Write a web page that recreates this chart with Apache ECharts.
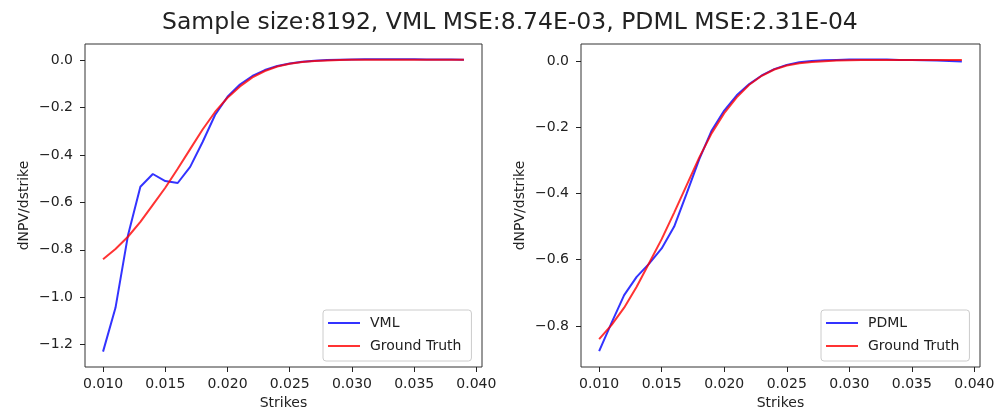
<!DOCTYPE html>
<html>
<head>
<meta charset="utf-8">
<script src="https://cdn.jsdelivr.net/npm/echarts@6/dist/echarts.min.js"></script>
<style>
html,body{margin:0;padding:0;background:#fff;}
#chart{width:998px;height:417px;}
</style>
</head>
<body>
<div id="chart"></div>
<script>
// ---- data ----
var strikes = [0.010,0.011,0.012,0.013,0.014,0.015,0.016,0.017,0.018,0.019,
               0.020,0.021,0.022,0.023,0.024,0.025,0.026,0.027,0.028,0.029,
               0.030,0.031,0.032,0.033,0.034,0.035,0.036,0.037,0.038,0.039];
var groundTruth = [-0.840,-0.797,-0.745,-0.682,-0.610,-0.538,-0.458,-0.375,-0.292,-0.218,
                   -0.158,-0.110,-0.072,-0.045,-0.026,-0.014,-0.007,-0.003,-0.001,0.001,
                    0.002,0.003,0.003,0.003,0.003,0.003,0.003,0.003,0.003,0.003];
var vml = [-1.230,-1.045,-0.740,-0.534,-0.480,-0.510,-0.518,-0.450,-0.345,-0.231,
           -0.154,-0.102,-0.066,-0.041,-0.024,-0.013,-0.006,-0.002,0.001,0.003,
            0.004,0.005,0.005,0.005,0.005,0.005,0.004,0.004,0.004,0.003];
var pdml = [-0.876,-0.790,-0.707,-0.652,-0.612,-0.566,-0.500,-0.400,-0.297,-0.210,
            -0.150,-0.104,-0.070,-0.044,-0.025,-0.012,-0.004,0.000,0.002,0.003,
             0.004,0.004,0.004,0.004,0.003,0.003,0.002,0.001,0.000,-0.002];
var xTicks = [0.010,0.015,0.020,0.025,0.030,0.035,0.040];
var yTicksLeft = [-1.2,-1.0,-0.8,-0.6,-0.4,-0.2,0.0];
var yTicksRight = [-0.8,-0.6,-0.4,-0.2,0.0];
var titleText = 'Sample size:8192, VML MSE:8.74E-03, PDML MSE:2.31E-04';

function pairs(xs, ys){ return xs.map(function(x,i){ return [x, ys[i]]; }); }

var FONT = 'DejaVu Sans';
var TXT = '#222';
var BLUE = 'rgba(0,0,255,0.8)';
var RED = 'rgba(255,0,0,0.8)';
var TICK = '#222';
var XMIN = 0.00855, XMAX = 0.04045;
var LEFT_RANGE = [-1.295, 0.069], RIGHT_RANGE = [-0.924, 0.051];

function fmtX(v){ return v.toFixed(3); }
function fmtY(v){ var s = Math.abs(v) < 1e-9 ? '0.0' : v.toFixed(1); return s.replace('-', '\u2212'); }

// main axes (labels + names, no ticks)
function xAxis(idx){
  return {
    type:'value', gridIndex:idx, min:XMIN, max:XMAX, position:'bottom',
    name:'Strikes', nameLocation:'middle', nameGap:29,
    nameTextStyle:{fontFamily:FONT, fontSize:14, color:TXT},
    axisLine:{show:false, onZero:false},
    axisTick:{show:false},
    axisLabel:{show:true, margin:10, fontFamily:FONT, fontSize:14, color:TXT, customValues:xTicks, formatter:fmtX},
    splitLine:{show:false}
  };
}
function yAxis(idx, range, ticks){
  return {
    type:'value', gridIndex:idx, min:range[0], max:range[1], position:'left',
    name:'dNPV/dstrike', nameLocation:'middle', nameGap:54,
    nameTextStyle:{fontFamily:FONT, fontSize:14, color:TXT},
    axisLine:{show:false, onZero:false},
    axisTick:{show:false},
    axisLabel:{show:true, margin:12, fontFamily:FONT, fontSize:14, color:TXT, customValues:ticks, formatter:fmtY},
    splitLine:{show:false}
  };
}
// tick-only axes living in thin strips just outside the plot frames
function tickAxis(idx, mn, mx, ticks, pos){
  return {
    type:'value', gridIndex:idx, min:mn, max:mx, position:pos,
    axisLine:{show:false, onZero:false},
    axisTick:{show:true, inside:true, length:5, lineStyle:{color:TICK, width:1}, customValues:ticks},
    axisLabel:{show:false, customValues:ticks},
    splitLine:{show:false}
  };
}
function hiddenAxis(idx){
  return {type:'value', gridIndex:idx, min:0, max:1, show:false};
}
function lineSeries(name, idx, ys, color){
  return {
    type:'line', name:name, xAxisIndex:idx, yAxisIndex:idx,
    data:pairs(strikes, ys), symbol:'none', showSymbol:false, smooth:false,
    lineStyle:{color:color, width:2}, itemStyle:{color:color},
    animation:false
  };
}
function legend(left, names){
  return {
    data:names, orient:'vertical', left:left, top:310,
    icon:'rect',
    padding:[5,10,7,5], itemGap:7, itemWidth:32, itemHeight:2,
    backgroundColor:'#fff', borderColor:'#ccc', borderWidth:1, borderRadius:3,
    textStyle:{fontFamily:FONT, fontSize:14, color:TXT, padding:[0,0,0,5], lineHeight:16},
    selectedMode:false
  };
}

var chart = echarts.init(document.getElementById('chart'), null, {renderer:'canvas'});
chart.setOption({
  animation:false,
  backgroundColor:'#fff',
  title:{text:titleText, left:157, top:6,
         textStyle:{fontFamily:FONT, fontSize:23.5, fontWeight:'normal', color:TXT}},
  grid:[
    {left:85, top:44, width:397, height:323, show:true, borderColor:'#333', borderWidth:1, backgroundColor:'transparent'},
    {left:581, top:44, width:399, height:323, show:true, borderColor:'#333', borderWidth:1, backgroundColor:'transparent'},
    {left:85, top:367, width:397, height:5, show:false},
    {left:581, top:367, width:399, height:5, show:false},
    {left:80, top:44, width:5, height:323, show:false},
    {left:576, top:44, width:5, height:323, show:false}
  ],
  xAxis:[
    xAxis(0), xAxis(1),
    tickAxis(2, XMIN, XMAX, xTicks, 'top'), tickAxis(3, XMIN, XMAX, xTicks, 'top'),
    hiddenAxis(4), hiddenAxis(5)
  ],
  yAxis:[
    yAxis(0, LEFT_RANGE, yTicksLeft), yAxis(1, RIGHT_RANGE, yTicksRight),
    hiddenAxis(2), hiddenAxis(3),
    tickAxis(4, LEFT_RANGE[0], LEFT_RANGE[1], yTicksLeft, 'right'),
    tickAxis(5, RIGHT_RANGE[0], RIGHT_RANGE[1], yTicksRight, 'right')
  ],
  legend:[legend(323,['VML','Ground Truth']), legend(821,['PDML','Ground Truth'])],
  series:[
    lineSeries('VML',0,vml,BLUE),
    lineSeries('Ground Truth',0,groundTruth,RED),
    lineSeries('PDML',1,pdml,BLUE),
    lineSeries('Ground Truth',1,groundTruth,RED)
  ]
});
</script>
</body>
</html>
